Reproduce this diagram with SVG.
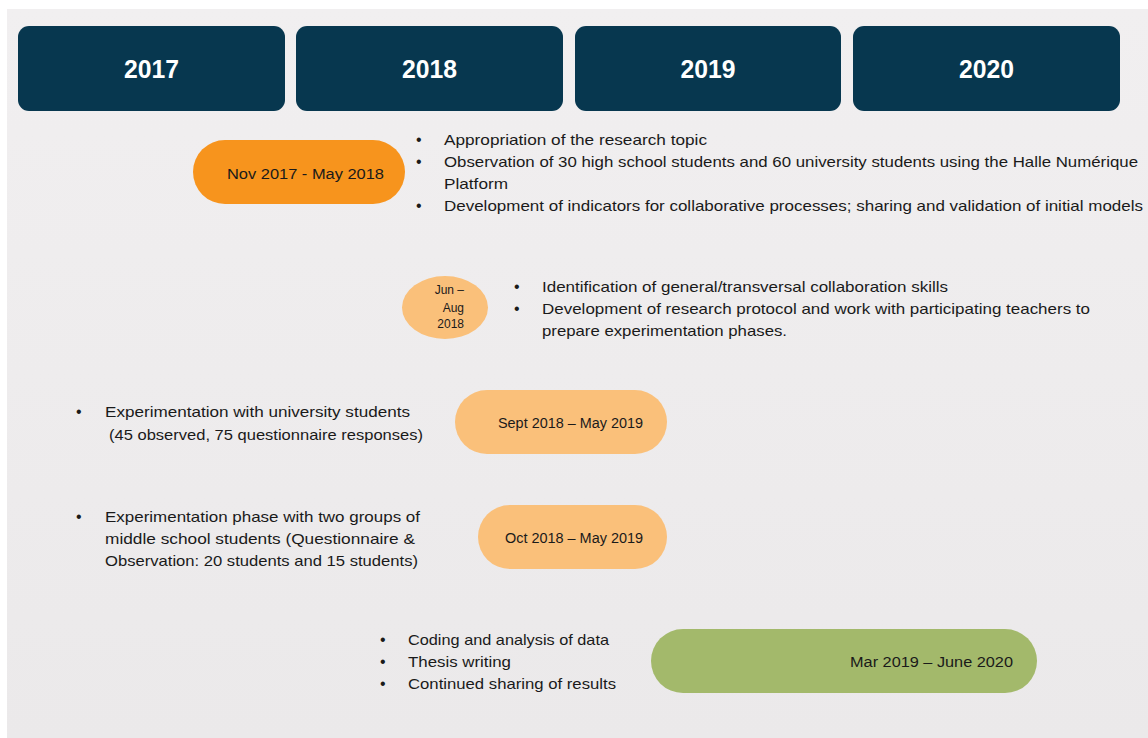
<svg xmlns="http://www.w3.org/2000/svg" width="1148" height="738" viewBox="0 0 1148 738">
<defs>
<linearGradient id="bg" x1="0" y1="0" x2="0" y2="1">
<stop offset="0" stop-color="#f1eff0"/>
<stop offset="1" stop-color="#ebe9ea"/>
</linearGradient>
</defs>
<style>
.year{fill:#07374f}
.yt{font-family:"Liberation Sans",Arial,sans-serif;font-weight:bold;font-size:25px;fill:#ffffff;text-anchor:middle}
.t{font-family:"Liberation Sans",Arial,sans-serif;font-size:15px;fill:#1a1a1a}
.pt{font-family:"Liberation Sans",Arial,sans-serif;fill:#1a1a1a}
.b{font-family:"Liberation Sans",Arial,sans-serif;font-size:16px;fill:#1a1a1a}
</style>
<rect width="1148" height="738" fill="#ffffff"/>
<rect x="7" y="9" width="1141" height="729" fill="url(#bg)"/>

<g id="year-2017"><rect class="year" x="18" y="26" width="267" height="85" rx="11"/><text class="yt" x="151.5" y="78" textLength="55" lengthAdjust="spacingAndGlyphs">2017</text></g>
<g id="year-2018"><rect class="year" x="296" y="26" width="267" height="85" rx="11"/><text class="yt" x="429.5" y="78" textLength="55" lengthAdjust="spacingAndGlyphs">2018</text></g>
<g id="year-2019"><rect class="year" x="575" y="26" width="266" height="85" rx="11"/><text class="yt" x="708" y="78" textLength="55" lengthAdjust="spacingAndGlyphs">2019</text></g>
<g id="year-2020"><rect class="year" x="853" y="26" width="267" height="85" rx="11"/><text class="yt" x="986.5" y="78" textLength="55" lengthAdjust="spacingAndGlyphs">2020</text></g>

<g id="phase1">
<rect x="193" y="140" width="212" height="64" rx="32" fill="#f7941d"/>
<text class="pt" x="227" y="179" font-size="15.5" textLength="157" lengthAdjust="spacingAndGlyphs">Nov 2017 - May 2018</text>
<g class="b"><text x="416" y="145">•</text><text x="416" y="167">•</text><text x="416" y="211">•</text></g>
<text class="t" x="444" y="145" textLength="263" lengthAdjust="spacingAndGlyphs">Appropriation of the research topic</text>
<text class="t" x="444" y="167" textLength="694" lengthAdjust="spacingAndGlyphs">Observation of 30 high school students and 60 university students using the Halle Numérique</text>
<text class="t" x="444" y="189" textLength="64" lengthAdjust="spacingAndGlyphs">Platform</text>
<text class="t" x="444" y="211" textLength="699" lengthAdjust="spacingAndGlyphs">Development of indicators for collaborative processes; sharing and validation of initial models</text>
</g>

<g id="phase2">
<ellipse cx="445" cy="307.5" rx="43" ry="31.5" fill="#fac07a"/>
<g class="pt" font-size="12" text-anchor="end">
<text x="464" y="294">Jun –</text>
<text x="464" y="312">Aug</text>
<text x="464" y="328">2018</text>
</g>
<g class="b"><text x="514" y="292">•</text><text x="514" y="314">•</text></g>
<text class="t" x="542" y="292" textLength="406" lengthAdjust="spacingAndGlyphs">Identification of general/transversal collaboration skills</text>
<text class="t" x="542" y="314" textLength="548" lengthAdjust="spacingAndGlyphs">Development of research protocol and work with participating teachers to</text>
<text class="t" x="542" y="336" textLength="245" lengthAdjust="spacingAndGlyphs">prepare experimentation phases.</text>
</g>

<g id="phase3">
<rect x="455" y="390" width="212" height="64" rx="32" fill="#fac07a"/>
<text class="pt" x="498" y="428" font-size="14" textLength="145" lengthAdjust="spacingAndGlyphs">Sept 2018 – May 2019</text>
<g class="b"><text x="76" y="417">•</text></g>
<text class="t" x="105" y="417" textLength="305" lengthAdjust="spacingAndGlyphs">Experimentation with university students</text>
<text class="t" x="109" y="440" textLength="314" lengthAdjust="spacingAndGlyphs">(45 observed, 75 questionnaire responses)</text>
</g>

<g id="phase4">
<rect x="478" y="505" width="189" height="64" rx="32" fill="#fac07a"/>
<text class="pt" x="505" y="543" font-size="14" textLength="138" lengthAdjust="spacingAndGlyphs">Oct 2018 – May 2019</text>
<g class="b"><text x="76" y="522">•</text></g>
<text class="t" x="105" y="522" textLength="315" lengthAdjust="spacingAndGlyphs">Experimentation phase with two groups of</text>
<text class="t" x="105" y="544" textLength="310" lengthAdjust="spacingAndGlyphs">middle school students (Questionnaire &amp;</text>
<text class="t" x="105" y="566" textLength="313" lengthAdjust="spacingAndGlyphs">Observation: 20 students and 15 students)</text>
</g>

<g id="phase5">
<rect x="651" y="629" width="386" height="64" rx="32" fill="#a3b96b"/>
<text class="pt" x="850" y="667" font-size="15.5" textLength="163" lengthAdjust="spacingAndGlyphs">Mar 2019 – June 2020</text>
<g class="b"><text x="380" y="645">•</text><text x="380" y="667">•</text><text x="380" y="689">•</text></g>
<text class="t" x="408" y="645" textLength="201" lengthAdjust="spacingAndGlyphs">Coding and analysis of data</text>
<text class="t" x="408" y="667" textLength="103" lengthAdjust="spacingAndGlyphs">Thesis writing</text>
<text class="t" x="408" y="689" textLength="208" lengthAdjust="spacingAndGlyphs">Continued sharing of results</text>
</g>

<g id="connectors"></g>
</svg>
